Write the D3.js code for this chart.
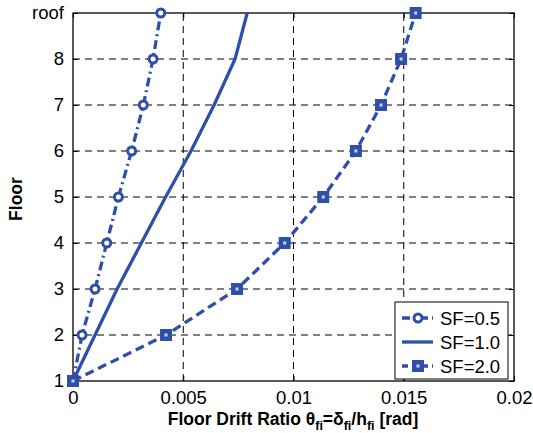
<!DOCTYPE html>
<html lang="en">
<head>
<meta charset="utf-8">
<style>
  body { margin: 0; background: #fff; }
  text { font-family: "Liberation Sans", Arial, sans-serif; }
</style>
</head>
<body>
<svg class="chart"></svg>
<script src="https://d3js.org/d3.v7.min.js"></script>
<script type="text/javascript">
const floors = [1, 2, 3, 4, 5, 6, 7, 8, 9];
const floorLabels = ["1", "2", "3", "4", "5", "6", "7", "8", "roof"];
const xTicks = [0, 0.005, 0.01, 0.015, 0.02];
const xTickLabels = ["0", "0.005", "0.01", "0.015", "0.02"];
const sf05 = [0, 0.00041, 0.001, 0.00153, 0.00206, 0.00266, 0.00319, 0.00363, 0.00398];
const sf10 = [0, 0.001, 0.002, 0.0031, 0.0042, 0.00535, 0.0064, 0.00735, 0.0079];
const sf20 = [0, 0.00422, 0.00744, 0.0096, 0.01135, 0.01283, 0.01397, 0.01488, 0.01554];
const seriesNames = ["SF=0.5", "SF=1.0", "SF=2.0"];

const width = 533;
const height = 433;
const margin = { top: 13, right: 19, bottom: 52, left: 73 };
const blue = "#2f4fa8";

const svg = d3.select(".chart")
    .attr("width", width)
    .attr("height", height);

const x = d3.scaleLinear().domain([0, 0.02]).range([margin.left, width - margin.right]);
const y = d3.scaleLinear().domain([1, 9]).range([height - margin.bottom, margin.top]);

// grid
const grid = svg.append("g")
    .attr("stroke", "#000")
    .attr("stroke-width", 1)
    .attr("stroke-dasharray", "7,5");
grid.selectAll(".vg")
    .data(xTicks.slice(1, -1))
    .enter().append("line")
    .attr("x1", d => x(d)).attr("x2", d => x(d))
    .attr("y1", y(1)).attr("y2", y(9));
grid.selectAll(".hg")
    .data(floors.slice(1, -1))
    .enter().append("line")
    .attr("y1", d => y(d)).attr("y2", d => y(d))
    .attr("x1", x(0)).attr("x2", x(0.02));

// axes (inward ticks, MATLAB style)
const xAxis = d3.axisBottom(x).tickValues(xTicks).tickSize(-5).tickPadding(10)
    .tickFormat((d, i) => xTickLabels[i]);
const yAxis = d3.axisLeft(y).tickValues(floors).tickSize(-5).tickPadding(9)
    .tickFormat((d, i) => floorLabels[i]);

function styleAxis(g) {
    g.select(".domain").remove();
    g.selectAll(".tick line").attr("stroke", "#000");
    g.selectAll(".tick text").attr("fill", "#000")
        .style("font-size", "18.5px")
        .style("font-family", "'Liberation Sans', Arial, sans-serif");
}

svg.append("g").attr("transform", `translate(0,${y(1)})`).call(xAxis).call(styleAxis);
svg.append("g").attr("transform", `translate(${x(0)},0)`).call(yAxis).call(styleAxis);
svg.append("g").attr("transform", `translate(0,${y(9)})`)
    .call(d3.axisTop(x).tickValues(xTicks).tickSize(-5).tickFormat(""))
    .call(styleAxis);
svg.append("g").attr("transform", `translate(${x(0.02)},0)`)
    .call(d3.axisRight(y).tickValues(floors).tickSize(-5).tickFormat(""))
    .call(styleAxis);

svg.append("rect")
    .attr("x", x(0)).attr("y", y(9))
    .attr("width", x(0.02) - x(0)).attr("height", y(1) - y(9))
    .attr("fill", "none").attr("stroke", "#000").attr("stroke-width", 1.3);

// series
const series = [
    { name: seriesNames[0], values: sf05, dash: "9,4,2,4", marker: "circle" },
    { name: seriesNames[1], values: sf10, dash: null, marker: null },
    { name: seriesNames[2], values: sf20, dash: "9,5", marker: "square" }
];

const line = d3.line()
    .x(d => x(d[0]))
    .y(d => y(d[1]));

function drawMarker(g, type, cx, cy) {
    if (type === "circle") {
        g.append("circle")
            .attr("cx", cx).attr("cy", cy).attr("r", 4)
            .attr("fill", "#fff").attr("stroke", blue).attr("stroke-width", 3);
    } else if (type === "square") {
        g.append("rect")
            .attr("x", cx - 6).attr("y", cy - 6)
            .attr("width", 12).attr("height", 12)
            .attr("fill", blue);
        g.append("rect")
            .attr("x", cx - 1.5).attr("y", cy - 1.5)
            .attr("width", 3).attr("height", 3)
            .attr("fill", "#c9d2ec");
    }
}

series.forEach(s => {
    const pts = s.values.map((v, i) => [v, floors[i]]);
    svg.append("path")
        .datum(pts)
        .attr("d", line)
        .attr("fill", "none")
        .attr("stroke", blue)
        .attr("stroke-width", 3.3)
        .attr("stroke-dasharray", s.dash);
    const mg = svg.append("g");
    if (s.marker) pts.forEach(p => drawMarker(mg, s.marker, x(p[0]), y(p[1])));
});

// legend
const legend = svg.append("g").attr("transform", "translate(395,302)");
legend.append("rect")
    .attr("width", 113).attr("height", 77)
    .attr("fill", "#fff").attr("stroke", "#000").attr("stroke-width", 1);
series.forEach((s, i) => {
    const ly = 16 + i * 24;
    legend.append("line")
        .attr("x1", 7).attr("x2", 38).attr("y1", ly).attr("y2", ly)
        .attr("stroke", blue).attr("stroke-width", 3.3)
        .attr("stroke-dasharray", s.dash ? (s.marker === "circle" ? "8,4,2,4" : "6,4") : null);
    drawMarker(legend, s.marker, 23, ly);
    legend.append("text")
        .attr("x", 45).attr("y", ly + 7)
        .style("font-size", "18.5px")
        .text(s.name);
});

// axis titles
const xt = svg.append("text")
    .attr("x", 293).attr("y", 425)
    .attr("text-anchor", "middle")
    .style("font-size", "17.5px")
    .style("font-weight", "bold");
xt.append("tspan").text("Floor Drift Ratio θ");
xt.append("tspan").attr("dy", 5).style("font-size", "12.5px").text("fi");
xt.append("tspan").attr("dy", -5).text("=δ");
xt.append("tspan").attr("dy", 5).style("font-size", "12.5px").text("fi");
xt.append("tspan").attr("dy", -5).text("/h");
xt.append("tspan").attr("dy", 5).style("font-size", "12.5px").text("fi");
xt.append("tspan").attr("dy", -5).text(" [rad]");

svg.append("text")
    .attr("transform", "translate(22,199) rotate(-90)")
    .attr("text-anchor", "middle")
    .style("font-size", "17.5px")
    .style("font-weight", "bold")
    .text("Floor");
</script>
</body>
</html>
